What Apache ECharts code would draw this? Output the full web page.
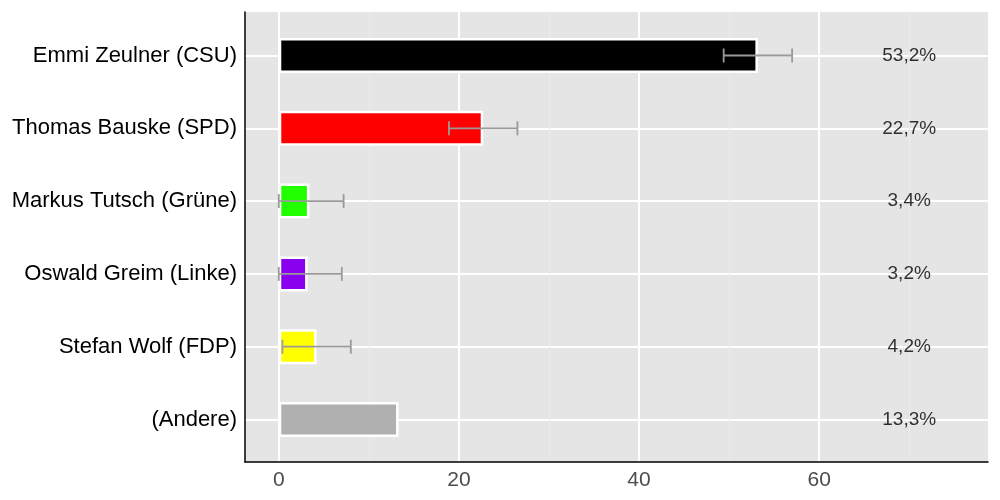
<!DOCTYPE html>
<html>
<head>
<meta charset="utf-8">
<script src="https://cdn.jsdelivr.net/npm/echarts@6/dist/echarts.min.js"></script>
<style>
  html, body { margin: 0; padding: 0; background: #fff; }
  #chart { width: 1000px; height: 500px; }
</style>
</head>
<body>
<div id="chart"></div>
<script>
var candidates = ['Emmi Zeulner (CSU)', 'Thomas Bauske (SPD)', 'Markus Tutsch (Grüne)', 'Oswald Greim (Linke)', 'Stefan Wolf (FDP)', '(Andere)']
var shares = [53.2, 22.7, 3.4, 3.2, 4.2, 13.3]
var errLow = [49.4, 18.9, 0, 0, 0.4, null]
var errHigh = [57.0, 26.5, 7.2, 7.0, 8.0, null]
var partyColors = ['#000000', '#ff0000', '#22ff00', '#8800ee', '#ffff00', '#b0b0b0']
var majorTicks = [0, 20, 40, 60]
var minorTicks = [10, 30, 50, 70]
var labelAt = 70

var FONT = 'Liberation Sans, Arial, Helvetica, sans-serif'
var xMin = -3.75
var xMax = 78.75

var chart = echarts.init(document.getElementById('chart'))

var barData = shares.map(function (v, i) {
  return { value: v, itemStyle: { color: partyColors[i] } }
})
var errData = []
for (var i = 0; i < candidates.length; i++) {
  if (errLow[i] !== null) errData.push([i, errLow[i], errHigh[i]])
}
var textData = shares.map(function (v, i) {
  return { value: [labelAt, i], label: { formatter: v.toFixed(1).replace('.', ',') + '%' } }
})

chart.setOption({
  animation: false,
  grid: [
    { left: 245, right: 12, top: 12, bottom: 38, show: true, backgroundColor: '#e5e5e5', borderWidth: 0 },
    { left: 245, right: 12, top: 55.5, bottom: 80.5 }
  ],
  xAxis: [
    {
      gridIndex: 0, type: 'value', min: xMin, max: xMax,
      axisLine: { show: true, onZero: false, lineStyle: { color: '#000', width: 1.5 } },
      axisTick: { show: false, customValues: majorTicks },
      axisLabel: { customValues: majorTicks, color: '#4d4d4d', fontSize: 21, fontFamily: FONT, margin: 8 },
      splitLine: { show: true, lineStyle: { color: '#ffffff', width: 2 } }
    },
    {
      gridIndex: 0, type: 'value', min: xMin, max: xMax,
      axisLine: { show: false }, axisTick: { show: false, customValues: minorTicks },
      axisLabel: { show: false, customValues: minorTicks },
      splitLine: { show: true, lineStyle: { color: '#ebebeb', width: 1 } }
    },
    {
      gridIndex: 1, type: 'value', min: xMin, max: xMax, show: false,
      splitLine: { show: false }
    }
  ],
  yAxis: [
    {
      gridIndex: 0, type: 'value', min: 0, max: 1,
      axisLine: { show: true, onZero: false, lineStyle: { color: '#000', width: 1.5 } },
      axisTick: { show: false }, axisLabel: { show: false }, splitLine: { show: false }
    },
    {
      gridIndex: 1, type: 'category', data: candidates, inverse: true, boundaryGap: false,
      axisLine: { show: false }, axisTick: { show: false },
      axisLabel: { color: '#000', fontSize: 22, fontFamily: FONT, margin: 8 },
      splitLine: { show: true, lineStyle: { color: '#ffffff', width: 2 } }
    }
  ],
  series: [
    {
      type: 'bar', xAxisIndex: 2, yAxisIndex: 1, data: barData, barWidth: 35,
      itemStyle: { borderColor: '#ffffff', borderWidth: 2.5 }
    },
    {
      type: 'custom', xAxisIndex: 2, yAxisIndex: 1, data: errData, z: 5,
      renderItem: function (params, api) {
        var c = api.value(0)
        var a = api.coord([api.value(1), c])
        var b = api.coord([api.value(2), c])
        var h = 7
        var st = { stroke: '#9a9a9a', lineWidth: 1.8 }
        return {
          type: 'group',
          children: [
            { type: 'line', shape: { x1: a[0], y1: a[1], x2: b[0], y2: b[1] }, style: st },
            { type: 'line', shape: { x1: a[0], y1: a[1] - h, x2: a[0], y2: a[1] + h }, style: st },
            { type: 'line', shape: { x1: b[0], y1: b[1] - h, x2: b[0], y2: b[1] + h }, style: st }
          ]
        }
      }
    },
    {
      type: 'scatter', xAxisIndex: 2, yAxisIndex: 1, data: textData, symbolSize: 0,
      label: { show: true, position: 'inside', color: '#000', fontSize: 19, fontFamily: FONT }
    }
  ]
})
</script>
</body>
</html>
